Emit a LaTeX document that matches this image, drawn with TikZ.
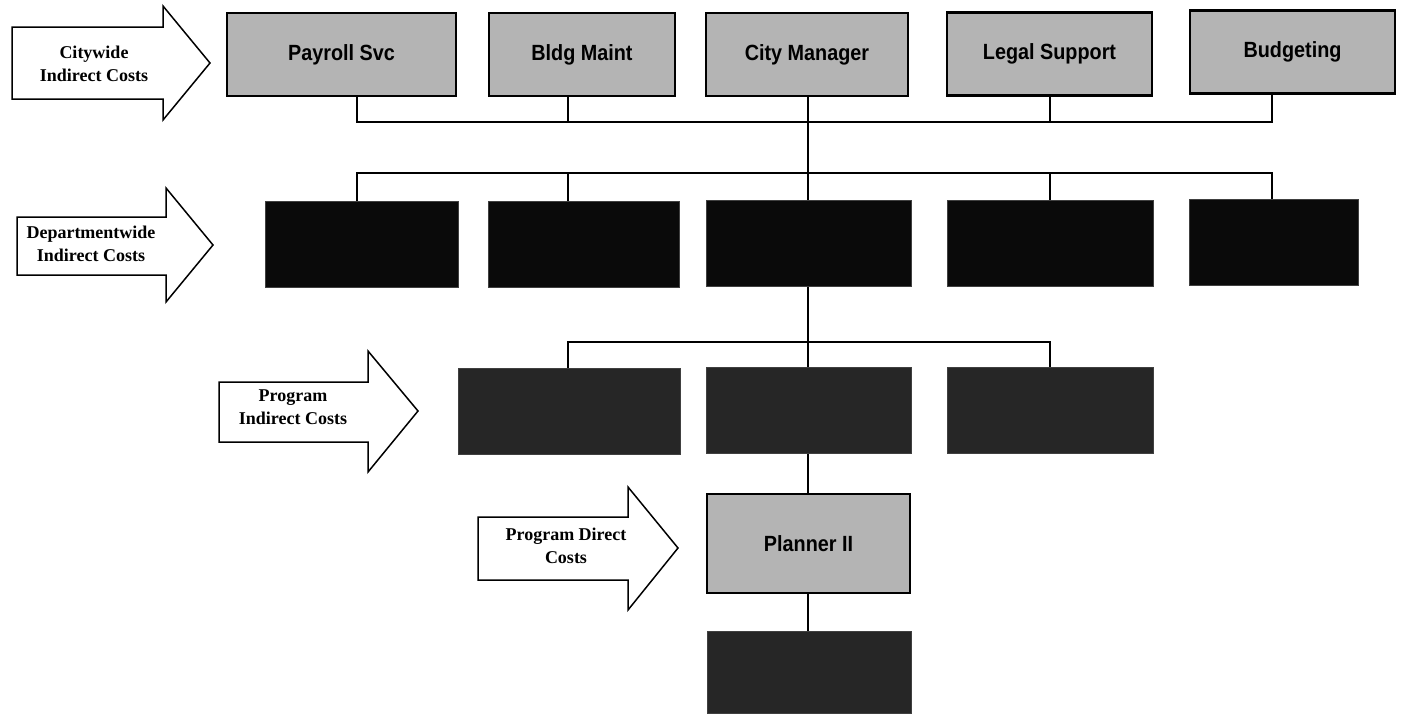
\documentclass[tikz,border=0pt]{standalone}
\usepackage{fontspec}
\setmainfont{Liberation Serif}
\newfontfamily\boxfont[FakeStretch=0.9]{Liberation Sans}
\definecolor{lightbox}{HTML}{B4B4B4}
\definecolor{darkboxA}{HTML}{0A0A0A}
\definecolor{darkboxB}{HTML}{262626}
\tikzset{
  litebox/.style={draw=black, line width=2.5pt, fill=lightbox, inner sep=0pt, font=\boxfont\bfseries\fontsize{22}{25}\selectfont},
  darkbox/.style={draw=black!75, line width=1pt, fill=darkboxA, inner sep=0pt},
  darkboxb/.style={draw=black!75, line width=1pt, fill=darkboxB, inner sep=0pt},
  link/.style={draw=black, line width=2pt},
  bigarrow/.style={draw=black, line width=1.5pt, fill=white, line join=miter},
  arrowtext/.style={font=\bfseries\fontsize{18}{23}\selectfont, align=center, inner sep=0pt}
}
\begin{document}
\begin{tikzpicture}[x=1pt,y=-1pt]
\useasboundingbox (0,0) rectangle (1401,715);
% top row
\node[litebox, minimum width=229pt, minimum height=83pt] (p1) at (341.5,54.5) {Payroll Svc};
\node[litebox, minimum width=186pt, minimum height=83pt] (p2) at (582,54.5) {Bldg Maint};
\node[litebox, minimum width=202pt, minimum height=83pt] (p3) at (807,54.5) {City Manager};
\node[litebox, minimum width=205pt, minimum height=83pt] (p4) at (1049.5,54) {Legal Support};
\node[litebox, minimum width=205pt, minimum height=83pt] (p5) at (1292.5,52) {Budgeting};
% second row
\node[darkbox, minimum width=193pt, minimum height=86pt] (d1) at (361.5,244) {};
\node[darkbox, minimum width=191pt, minimum height=86pt] (d2) at (583.5,244) {};
\node[darkbox, minimum width=205pt, minimum height=86pt] (d3) at (808.5,243.5) {};
\node[darkbox, minimum width=206pt, minimum height=86pt] (d4) at (1050,243) {};
\node[darkbox, minimum width=169pt, minimum height=86pt] (d5) at (1273.5,242.5) {};
% third row
\node[darkboxb, minimum width=222pt, minimum height=86pt] (r1) at (569,411) {};
\node[darkboxb, minimum width=205pt, minimum height=86pt] (r2) at (808.5,410.5) {};
\node[darkboxb, minimum width=206pt, minimum height=86pt] (r3) at (1050,410) {};
% fourth row
\node[litebox, minimum width=203pt, minimum height=99pt] (pl) at (808.5,543.5) {Planner II};
\node[darkboxb, minimum width=204pt, minimum height=82pt] (bt) at (809,672) {};
% bus coordinates
\coordinate (t1) at (357,122);
\coordinate (t2) at (568,122);
\coordinate (t3) at (808,122);
\coordinate (t4) at (1050,122);
\coordinate (t5) at (1272,122);
\coordinate (s1) at (357,173);
\coordinate (s2) at (568,173);
\coordinate (s3) at (808,173);
\coordinate (s4) at (1050,173);
\coordinate (s5) at (1272,173);
\coordinate (u1) at (568,342);
\coordinate (u2) at (808,342);
\coordinate (u3) at (1050,342);
% top connectors
\draw[link] (t1 |- p1.south) -- (t1) -- (t5) -- (t5 |- p5.south);
\draw[link] (t2 |- p2.south) -- (t2);
\draw[link] (t3 |- p3.south) -- (s3);
\draw[link] (t4 |- p4.south) -- (t4);
% second connectors
\draw[link] (s1 |- d1.north) -- (s1) -- (s5) -- (s5 |- d5.north);
\draw[link] (s2) -- (s2 |- d2.north);
\draw[link] (s3) -- (s3 |- d3.north);
\draw[link] (s4) -- (s4 |- d4.north);
% third connectors
\draw[link] (u2 |- d3.south) -- (u2);
\draw[link] (u1 |- r1.north) -- (u1) -- (u3) -- (u3 |- r3.north);
\draw[link] (u2) -- (u2 |- r2.north);
\draw[link] (u2 |- r2.south) -- (u2 |- pl.north);
\draw[link] (u2 |- pl.south) -- (u2 |- bt.north);
% big arrows
\draw[bigarrow] (12,27) -- (163,27) -- (163,6) -- (210,63) -- (163,120) -- (163,99) -- (12,99) -- cycle;
\node[arrowtext] (a1) at (94,63.5) {Citywide\\Indirect Costs};
\draw[bigarrow] (17,217) -- (166,217) -- (166,188) -- (213,245) -- (166,302) -- (166,275) -- (17,275) -- cycle;
\node[arrowtext] (a2) at (91,243.5) {Departmentwide\\Indirect Costs};
\draw[bigarrow] (219,382) -- (368,382) -- (368,351) -- (418,411) -- (368,472) -- (368,442) -- (219,442) -- cycle;
\node[arrowtext] (a3) at (293,407.5) {Program\\Indirect Costs};
\draw[bigarrow] (478,517) -- (628,517) -- (628,487) -- (678,548) -- (628,610) -- (628,580) -- (478,580) -- cycle;
\node[arrowtext] (a4) at (566,546) {Program Direct\\Costs};
\end{tikzpicture}
\end{document}
